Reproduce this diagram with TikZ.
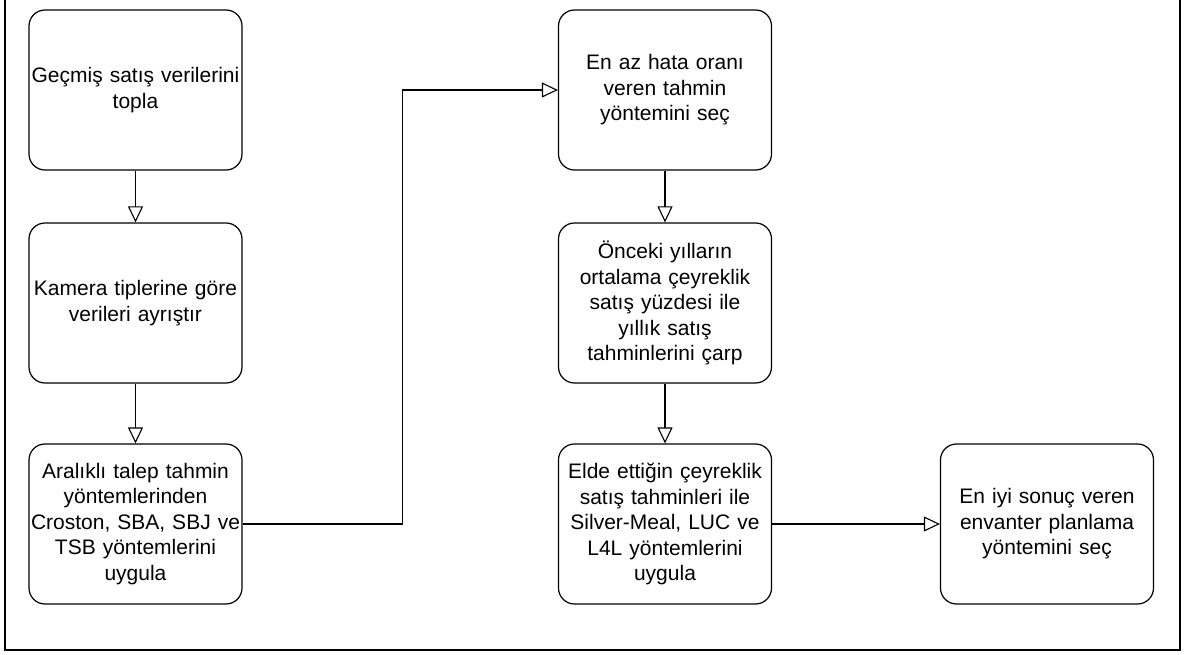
\documentclass[tikz,border=0pt]{standalone}
\usepackage{fontspec}
\setmainfont{Liberation Sans}
\usetikzlibrary{arrows.meta}

\tikzset{
    proc/.style={draw, line width=1.2pt, rounded corners=16pt, minimum width=213pt,
        minimum height=160pt, text width=211pt, align=center, inner sep=0pt,
        font=\fontsize{21}{25.5}\selectfont},
    flow/.style={line width=1.1pt, -{Triangle[open, length=16pt, width=15pt]}}
}

\begin{document}
\begin{tikzpicture}[x=1pt, y=-1pt]
        \useasboundingbox (0,0) rectangle (1187,655);

        % outer frame
        \draw [line width=1.5pt] (5,-5) -- (5,650) -- (1180,650) -- (1180,-5);

        % first column
        \node [proc] (b1) at (135.5,90) {Geçmiş satış verilerini\\topla};
        \node [proc] (b2) at (135.5,303) {Kamera tiplerine göre\\verileri ayrıştır};
        \node [proc] (b3) at (135.5,524) {Aralıklı talep tahmin\\yöntemlerinden\\Croston, SBA, SBJ ve\\TSB yöntemlerini\\uygula};

        % second column
        \node [proc] (b4) at (665,90) {En az hata oranı\\veren tahmin\\yöntemini seç};
        \node [proc] (b5) at (665,303) {Önceki yılların\\ortalama çeyreklik\\satış yüzdesi ile\\yıllık satış\\tahminlerini çarp};
        \node [proc] (b6) at (665,524) {Elde ettiğin çeyreklik\\satış tahminleri ile\\Silver-Meal, LUC ve\\L4L yöntemlerini\\uygula};

        % last step
        \node [proc] (b7) at (1047,524) {En iyi sonuç veren\\envanter planlama\\yöntemini seç};

        % arrows
        \draw [flow] (b1) -- (b2);
        \draw [flow] (b2) -- (b3);
        \draw [flow] (b3.east) -- ++(160,0) |- (b4.west);
        \draw [flow] (b4) -- (b5);
        \draw [flow] (b5) -- (b6);
        \draw [flow] (b6) -- (b7);
\end{tikzpicture}
\end{document}
